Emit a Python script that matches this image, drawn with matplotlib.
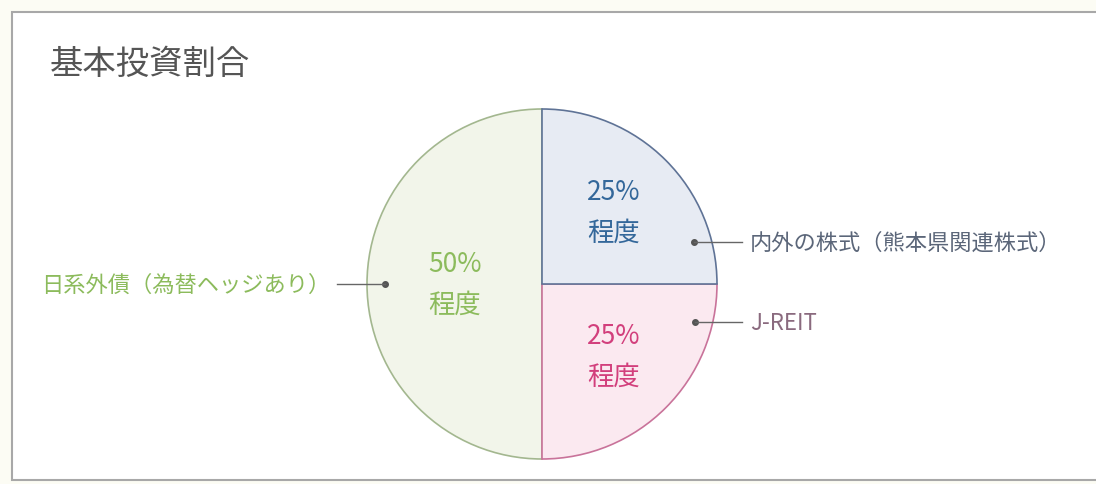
import numpy as np
import matplotlib.pyplot as plt
from matplotlib.patches import Rectangle

plt.rcParams['font.family'] = ['Noto Sans CJK JP', 'DejaVu Sans']

# data
title = '基本投資割合'
categories = ['日系外債（為替ヘッジあり）', 'J-REIT', '内外の株式（熊本県関連株式）']
shares = [50, 25, 25]
pct_labels = ['50%\n程度', '25%\n程度', '25%\n程度']

text_colors = ['#8cbb5c', '#d23f7c', '#33679a']
label_colors = ['#8cbb5c', '#8a6a7e', '#5b6679']
fill_colors = ['#f2f5ea', '#fbe9f0', '#e7ebf3']
edge_colors = ['#a3b78f', '#c9739a', '#5f7396']

W, H = 1096, 485
fig = plt.figure(figsize=(W / 100, H / 100), dpi=100)
fig.patch.set_facecolor('#fcfcf4')
ax = fig.add_axes([0, 0, 1, 1])

cx, cy, R = 542, H - 285, 175
wedges, _ = ax.pie(shares, startangle=90, counterclock=True,
                   colors=fill_colors, center=(cx, cy), radius=R,
                   wedgeprops=dict(linewidth=1.2))
for w, ec in zip(wedges, edge_colors):
    w.set_edgecolor(ec)
    w.set_zorder(3)

ax.set_xlim(0, W)
ax.set_ylim(0, H)
ax.set_aspect('equal')
ax.axis('off')

# panel box
ax.add_patch(Rectangle((12, 4), W, H - 17, facecolor='white',
                       edgecolor='#a8a8a8', linewidth=1.5, zorder=0))
ax.text(50, H - 64, title, fontsize=24, color='#555555', va='center', ha='left')

# percentage labels inside wedges
for w, lab, c, r in zip(wedges, pct_labels, text_colors, [0.5, 0.58, 0.58]):
    mid = np.deg2rad((w.theta1 + w.theta2) / 2)
    ax.text(cx + r * R * np.cos(mid), cy + r * R * np.sin(mid), lab,
            fontsize=19, color=c, ha='center', va='center',
            linespacing=1.65, zorder=5)

# leader dots and category labels
dot_angles = [180, -14, 15.5]
dot_r = 0.9
for i, (cat, c, a) in enumerate(zip(categories, label_colors, dot_angles)):
    t = np.deg2rad(a)
    dx, dy = cx + dot_r * R * np.cos(t), cy + dot_r * R * np.sin(t)
    ax.plot(dx, dy, 'o', ms=4, color='#555555', zorder=6)
    if i == 0:
        ax.plot([dx - 48, dx], [dy, dy], color='#666666', lw=1, zorder=6)
        ax.text(dx - 54, dy, cat, fontsize=16, color=c, ha='right', va='center')
    else:
        ax.plot([dx, 742], [dy, dy], color='#666666', lw=1, zorder=6)
        ax.text(750, dy, cat, fontsize=16, color=c, ha='left', va='center')

fig.savefig('out.png', dpi=100, facecolor=fig.get_facecolor())
